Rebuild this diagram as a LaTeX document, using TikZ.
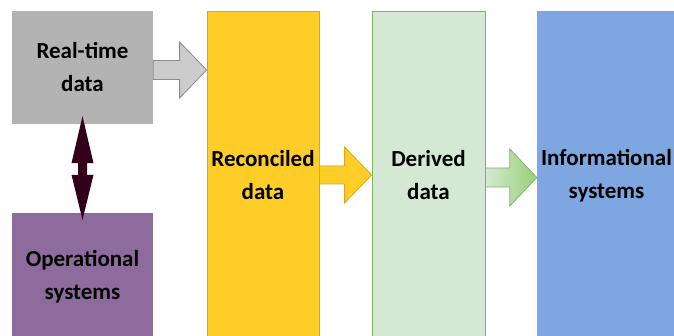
\documentclass[tikz,border=0pt]{standalone}
\usepackage{fontspec}
\setmainfont{Carlito}
\usetikzlibrary{calc}
\definecolor{grayBox}{HTML}{B3B3B3}
\definecolor{grayArrow}{HTML}{CCCCCC}
\definecolor{grayArrowLine}{HTML}{8C8C8C}
\definecolor{yellowBox}{HTML}{FFCD28}
\definecolor{yellowLine}{HTML}{DDA51A}
\definecolor{greenBox}{HTML}{D5E8D4}
\definecolor{greenLine}{HTML}{82B366}
\definecolor{greenDark}{HTML}{97D077}
\definecolor{blueBox}{HTML}{7EA6E0}
\definecolor{purpleBox}{HTML}{8D6B9C}
\definecolor{maroon}{HTML}{33001A}
\newcommand{\hblockarrow}[6]{%
  \draw[#1] let \p1=(#2), \p2=(#3) in
    (\x1,\y1+#4pt) -- (\x2-#6pt,\y1+#4pt) -- (\x2-#6pt,\y1+#5pt) -- (\x2,\y1)
    -- (\x2-#6pt,\y1-#5pt) -- (\x2-#6pt,\y1-#4pt) -- (\x1,\y1-#4pt) -- cycle;}
\begin{document}
\begin{tikzpicture}[x=1pt,y=1pt,
  box/.style={rectangle, inner sep=0pt, align=center,
    font=\fontsize{23}{33}\selectfont\bfseries, text=black},
  thinline/.style={line width=0.8pt}]
\useasboundingbox (0,0) rectangle (674,336);
\clip (0,0) rectangle (674,336);
% boxes
\node[box, fill=grayBox, minimum width=141, minimum height=113] (rt) at (82.5,268.5) {Real-time\\data};
\node[box, fill=purpleBox, minimum width=141, minimum height=127] (os) at (82.5,59.5) {Operational\\systems};
\node[box, fill=yellowBox, draw=yellowLine, thinline, minimum width=112, minimum height=329] (rec) at (263,160.5) {Reconciled\\data};
\node[box, fill=greenBox, draw=greenLine, thinline, minimum width=113, minimum height=329] (der) at (428.5,160.5) {Derived\\data};
\node[box, fill=blueBox, minimum width=139, minimum height=329] (info) at (606.5,160.5) {Informational\\systems};
% connectors
\coordinate (ga) at (rt.east |- 0,266);
\coordinate (ya) at (rec.east |- 0,161);
\coordinate (gra) at (der.east |- 0,158.5);
\hblockarrow{fill=grayArrow, draw=grayArrowLine, thinline}{ga}{rec.west}{9.5}{28}{27}
\hblockarrow{fill=yellowBox, draw=yellowLine, thinline}{ya}{der.west}{9}{28}{27}
\hblockarrow{left color=greenBox, right color=greenDark, draw=greenLine, thinline}{gra}{info.west}{9.5}{28.5}{27}
\fill[maroon] let \p1=(rt.south), \p2=(os.north) in
  (\x1,\y1+8pt) -- (\x1+11pt,\y1-39pt) -- (\x1+4.5pt,\y1-39pt) -- (\x1+4.5pt,\y2+38pt)
  -- (\x1+11pt,\y2+38pt) -- (\x1,\y2-7pt) -- (\x1-11pt,\y2+38pt) -- (\x1-4.5pt,\y2+38pt)
  -- (\x1-4.5pt,\y1-39pt) -- (\x1-11pt,\y1-39pt) -- cycle;
\end{tikzpicture}
\end{document}
